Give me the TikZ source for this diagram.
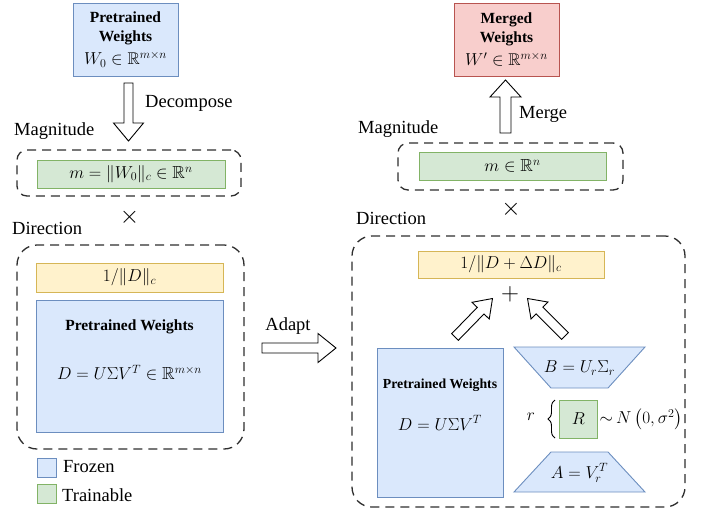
\documentclass[tikz,border=0pt]{standalone}
\usepackage{amsmath,amssymb}
\usepackage{fontspec}
\setmainfont{LiberationSerif}[Extension=.ttf, UprightFont=*-Regular, BoldFont=*-Bold, ItalicFont=*-Italic, BoldItalicFont=*-BoldItalic]
\usetikzlibrary{calc,decorations.pathreplacing}
\definecolor{bfill}{HTML}{DAE8FC}
\definecolor{bdraw}{HTML}{6C8EBF}
\definecolor{gfill}{HTML}{D5E8D4}
\definecolor{gdraw}{HTML}{82B366}
\definecolor{yfill}{HTML}{FFF2CC}
\definecolor{ydraw}{HTML}{D6B656}
\definecolor{rfill}{HTML}{F8CECC}
\definecolor{rdraw}{HTML}{B85450}
\definecolor{dashc}{HTML}{2E2E2E}
\newcommand\hollowarrowdraw[5]{%
  \coordinate (ha-b) at #1;
  \coordinate (ha-t) at #2;
  \coordinate (ha-h) at ($(ha-t)!#5!(ha-b)$);
  \draw[blockarrow] ($(ha-b)!#3!90:(ha-t)$) -- ($(ha-h)!#3!90:(ha-t)$) -- ($(ha-h)!#4!90:(ha-t)$) -- (ha-t)
     -- ($(ha-h)!#4!-90:(ha-t)$) -- ($(ha-h)!#3!-90:(ha-t)$) -- ($(ha-b)!#3!-90:(ha-t)$) -- cycle;}
\newcommand\bfl[1]{{\fontsize{15.5}{19}\selectfont\bfseries #1}}
\newcommand\mfl[1]{{\fontsize{17}{20}\selectfont #1}}
\tikzset{
  box/.style={rectangle, inner sep=0pt, outer sep=0pt, line width=0.9pt},
  bluebox/.style={box, fill=bfill, draw=bdraw},
  greenbox/.style={box, fill=gfill, draw=gdraw},
  yellowbox/.style={box, fill=yfill, draw=ydraw},
  redbox/.style={box, fill=rfill, draw=rdraw},
  dashbox/.style={rectangle, inner sep=0pt, outer sep=0pt, draw=dashc, line width=1.3pt, dash pattern=on 9pt off 6pt},
  blockarrow/.style={draw=black, fill=white, line width=0.9pt, line join=miter},
  lab/.style={inner sep=0pt, font=\fontsize{18.5}{22}\selectfont},
  bold/.style={inner sep=0pt, font=\fontsize{15.5}{19}\selectfont\bfseries},
  mth/.style={inner sep=0pt, font=\fontsize{17.5}{21}\selectfont},
}
\begin{document}
\begin{tikzpicture}[x=1pt,y=-1pt]
\useasboundingbox (0,0) rectangle (705,509);

% ---------- left column ----------
\node[bluebox, minimum width=105pt, minimum height=73pt, align=center, font=\fontsize{15.5}{19}\selectfont] (pw0) at (125.5,39.5)
  {\bfl{Pretrained}\\\bfl{Weights}\\[4pt]\mfl{$W_0\in\mathbb{R}^{m\times n}$}};

\coordinate (dec-s) at (128.5,83);
\coordinate (dec-e) at (128.5,141);
\hollowarrowdraw{(dec-s)}{(dec-e)}{4.5pt}{15pt}{18pt}
\node[lab, anchor=west] (decl) at (145,103) {Decompose};

\node[lab, anchor=west] (magLl) at (14,131) {Magnitude};
\node[dashbox, rounded corners=10pt, minimum width=224pt, minimum height=46pt] (magL) at (129,173) {};
\node[greenbox, minimum width=188pt, minimum height=28pt, font=\fontsize{17.5}{21}\selectfont] (mL) at (131,174) {$m=\|W_0\|_c\in\mathbb{R}^n$};

\node[inner sep=0pt, font=\fontsize{30}{30}\selectfont] (xL) at (129.5,217.5) {$\times$};

\node[lab, anchor=west] (dirLl) at (12,228) {Direction};
\node[dashbox, rounded corners=20pt, minimum width=227pt, minimum height=204pt] (dirL) at (130.5,347) {};
\node[yellowbox, minimum width=187pt, minimum height=29pt, font=\fontsize{17.5}{21}\selectfont] (nL) at (129.5,277.5) {$1/\|D\|_c$};
\node[bluebox, minimum width=187pt, minimum height=132pt] (pL) at (129.5,366) {};
\node[bold] (pLt) at (129.5,327) {Pretrained Weights};
\node[mth] (pLf) at (129.5,373) {$D=U\Sigma V^T\in\mathbb{R}^{m\times n}$};

\node[bluebox, minimum width=19pt, minimum height=19pt] (lgF) at (46.5,467.5) {};
\node[lab, anchor=west] (lgFt) at (63,467) {Frozen};
\node[greenbox, minimum width=19pt, minimum height=18.5pt] (lgT) at (46.5,494) {};
\node[lab, anchor=west] (lgTt) at (62,495) {Trainable};

% ---------- adapt ----------
\coordinate (ad-s) at (262,348);
\coordinate (ad-e) at (336,348);
\hollowarrowdraw{(ad-s)}{(ad-e)}{5pt}{14.5pt}{18pt}
\node[lab] (adl) at (288,326) {Adapt};

% ---------- right column ----------
\node[redbox, minimum width=105pt, minimum height=73pt, align=center, font=\fontsize{15.5}{19}\selectfont] (mw) at (506.5,39.5)
  {\bfl{Merged}\\\bfl{Weights}\\[4pt]\mfl{$W'\in\mathbb{R}^{m\times n}$}};

\coordinate (mg-s) at (505.5,133);
\coordinate (mg-e) at (505.5,80);
\hollowarrowdraw{(mg-s)}{(mg-e)}{5.5pt}{15.5pt}{17pt}
\node[lab, anchor=west] (mgl) at (519,114) {Merge};

\node[lab, anchor=west] (magRl) at (358,129) {Magnitude};
\node[dashbox, rounded corners=10pt, minimum width=225pt, minimum height=47pt] (magR) at (510.5,166.5) {};
\node[greenbox, minimum width=187pt, minimum height=28pt, font=\fontsize{17.5}{21}\selectfont] (mR) at (512.5,166) {$m\in\mathbb{R}^n$};

\node[inner sep=0pt, font=\fontsize{30}{30}\selectfont] (xR) at (511,209) {$\times$};

\node[lab, anchor=west] (dirRl) at (356,218) {Direction};
\node[dashbox, rounded corners=20pt, minimum width=333pt, minimum height=271pt] (dirR) at (518.5,371.5) {};
\node[yellowbox, minimum width=186pt, minimum height=27pt, font=\fontsize{17.5}{21}\selectfont] (nR) at (511,264.5) {$1/\|D+\Delta D\|_c$};

\node[inner sep=0pt, font=\fontsize{28}{28}\selectfont] (plus) at (510,294) {$+$};

\coordinate (da1-s) at (455,337);
\coordinate (da1-e) at (492.5,298.5);
\hollowarrowdraw{(da1-s)}{(da1-e)}{4.7pt}{12pt}{17pt}
\coordinate (da2-s) at (565,336);
\coordinate (da2-e) at (527.5,298.5);
\hollowarrowdraw{(da2-s)}{(da2-e)}{4.7pt}{12pt}{17pt}

\node[bluebox, minimum width=126pt, minimum height=149pt] (pR) at (440,422.5) {};
\node[inner sep=0pt, font=\fontsize{13.8}{16}\selectfont\bfseries] (pRt) at (440,385) {Pretrained Weights};
\node[mth] (pRf) at (440,423) {$D=U\Sigma V^T$};

\draw[bluebox] (514,347) -- (645,347) -- (608,388) -- (551,388) -- cycle;
\node[mth] (Bt) at (579.5,368) {$B=U_r\Sigma_r$};

\node[greenbox, minimum width=38.5pt, minimum height=38pt, font=\fontsize{17.5}{21}\selectfont] (Rb) at (578.3,419) {$R$};
\coordinate (br-b) at (555,438);
\coordinate (br-t) at (555,400);
\draw[line width=0.9pt, decorate, decoration={brace, amplitude=7pt}] (br-b) -- (br-t);
\node[mth] (rl) at (531,417) {$r$};
\node[mth, anchor=west] (Nl) at (599.5,419) {${\sim}\,N\left(0,\sigma^2\right)$};

\draw[bluebox] (551,452) -- (608,452) -- (645,492) -- (514,492) -- cycle;
\node[mth] (At) at (579.5,473) {$A=V_r^T$};
\end{tikzpicture}
\end{document}
